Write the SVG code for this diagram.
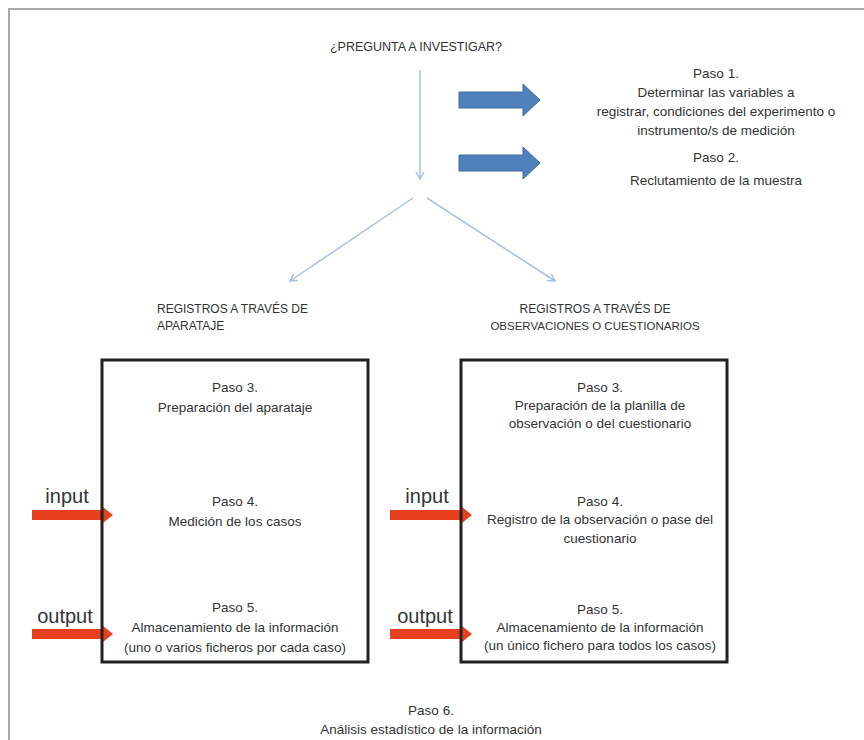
<svg xmlns="http://www.w3.org/2000/svg" width="864" height="740" viewBox="0 0 864 740">
<style>
.t{font-family:"Liberation Sans",Arial,sans-serif;font-size:13.5px;fill:#333;text-anchor:middle}
.c{font-family:"Liberation Sans",Arial,sans-serif;font-size:12px;fill:#333;text-anchor:middle}
.lbl{font-family:"Liberation Sans",Arial,sans-serif;font-size:20px;fill:#333;text-anchor:middle}
.box{fill:none;stroke:#222;stroke-width:3}
.thin{stroke:#a9bfdc;stroke-width:1.5;fill:none}
.blue{fill:#4f81bd;stroke:#3b6aa0;stroke-width:1}
.red{fill:#e8401e}
</style>
<defs>
<marker id="ah" markerWidth="10" markerHeight="10" refX="8" refY="5" orient="auto" markerUnits="userSpaceOnUse">
<path d="M1,1 L8,5 L1,9" fill="none" stroke="#a9bfdc" stroke-width="1.5"/>
</marker>
</defs>
<rect width="864" height="740" fill="#fff"/>
<path d="M9,740 V9 H864" fill="none" stroke="#aaa" stroke-width="2"/>

<g id="question"><text class="c" x="416" y="51" style="font-size:12.5px">¿PREGUNTA A INVESTIGAR?</text></g>

<g id="paso1">
<text class="t" x="716" y="78">Paso 1.</text>
<text class="t" x="716" y="97">Determinar las variables a</text>
<text class="t" x="716" y="116">registrar, condiciones del experimento o</text>
<text class="t" x="716" y="135">instrumento/s de medición</text>
</g>
<g id="paso2">
<text class="t" x="716" y="162">Paso 2.</text>
<text class="t" x="716" y="185">Reclutamiento de la muestra</text>
</g>

<g id="connectors">
<path class="thin" d="M420,70 V179" marker-end="url(#ah)"/>
<path class="thin" d="M413,198 L290,281" marker-end="url(#ah)"/>
<path class="thin" d="M427,198 L555,281" marker-end="url(#ah)"/>
<polygon class="blue" points="459,92 523,92 523,84 540,100 523,116 523,108 459,108"/>
<polygon class="blue" points="459,155 523,155 523,147 540,163 523,179 523,171 459,171"/>
<polygon class="red" points="32,510 103,510 103,507 113,515 103,523 103,520 32,520"/>
<polygon class="red" points="32,629 103,629 103,626 113,634 103,642 103,639 32,639"/>
<polygon class="red" points="390,510 462,510 462,507 472,515 462,523 462,520 390,520"/>
<polygon class="red" points="390,629 462,629 462,626 472,634 462,642 462,639 390,639"/>
<text class="lbl" x="67" y="503">input</text>
<text class="lbl" x="65" y="623">output</text>
<text class="lbl" x="427" y="503">input</text>
<text class="lbl" x="425" y="623">output</text>
</g>

<g id="label-left">
<text class="c" x="157" y="313" style="text-anchor:start">REGISTROS A TRAVÉS DE</text>
<text class="c" x="157" y="330" style="text-anchor:start">APARATAJE</text>
</g>
<g id="label-right">
<text class="c" x="595" y="313">REGISTROS A TRAVÉS DE</text>
<text class="c" x="595" y="330" style="font-size:11.5px">OBSERVACIONES O CUESTIONARIOS</text>
</g>

<g id="box-left">
<rect class="box" x="102" y="360" width="266" height="302"/>
<text class="t" x="235" y="392">Paso 3.</text>
<text class="t" x="235" y="412">Preparación del aparataje</text>
<text class="t" x="235" y="506">Paso 4.</text>
<text class="t" x="235" y="526">Medición de los casos</text>
<text class="t" x="235" y="612">Paso 5.</text>
<text class="t" x="235" y="632">Almacenamiento de la información</text>
<text class="t" x="235" y="652">(uno o varios ficheros por cada caso)</text>
</g>

<g id="box-right">
<rect class="box" x="461" y="360" width="266" height="302"/>
<text class="t" x="600" y="392">Paso 3.</text>
<text class="t" x="600" y="410">Preparación de la planilla de</text>
<text class="t" x="600" y="428">observación o del cuestionario</text>
<text class="t" x="600" y="506">Paso 4.</text>
<text class="t" x="600" y="524">Registro de la observación o pase del</text>
<text class="t" x="600" y="543">cuestionario</text>
<text class="t" x="600" y="614">Paso 5.</text>
<text class="t" x="600" y="632">Almacenamiento de la información</text>
<text class="t" x="600" y="650">(un único fichero para todos los casos)</text>
</g>

<g id="paso6">
<text class="t" x="431" y="715">Paso 6.</text>
<text class="t" x="431" y="734">Análisis estadístico de la información</text>
</g>
</svg>
